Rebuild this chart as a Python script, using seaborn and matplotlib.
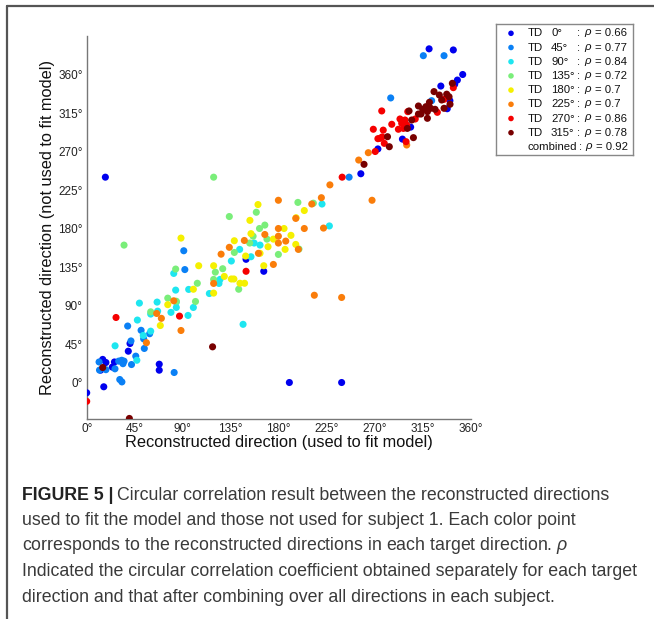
import matplotlib
matplotlib.use("Agg")
import matplotlib.pyplot as plt
from matplotlib.lines import Line2D
import seaborn as sns
import pandas as pd

# ---------------- data ----------------
categories = ["TD 0°", "TD 45°", "TD 90°", "TD 135°", "TD 180°", "TD 225°", "TD 270°", "TD 315°"]
angle_labels = ["0°", "45°", "90°", "135°", "180°", "225°", "270°", "315°"]
rho_values = ["0.66", "0.77", "0.84", "0.72", "0.7", "0.7", "0.86", "0.78"]
combined_rho = "0.92"
colors = ["#0000ee", "#0a80f5", "#1ee6f0", "#7aee7a", "#f5f000", "#fa7d0a", "#f50000", "#780000"]

td0_x = [0, 16, 15, 18, 13, 24, 26, 39, 40.6, 68, 68, 190, 239, 149.4, 166, 17.5, 257, 273,
         296, 303.7, 321, 343.7, 352.5, 347.5, 345, 332, 340.5, 338]
td0_y = [-12, -5, 27, 23.4, 14.4, 18, 24, 36.6, 45.6, 21.4, 14.4, 0, 0, 144, 130, 240, 244, 273,
         284.5, 298.5, 390, 388.7, 360, 353.5, 348.5, 346.5, 329.4, 320]

td45_x = [11.6, 18, 26.5, 30, 32.8, 34, 35, 31, 33, 41.5, 42, 46, 38.4, 51, 53.4, 54, 59, 82,
          91, 92, 285, 246, 323.4, 315.6, 335, 12]
td45_y = [24, 15, 16, 25, 26, 22, 25, 3.5, 0.7, 48.6, 21, 30.8, 66, 61, 51, 39.8, 57, 11.7,
          154, 132, 332.6, 240, 329.4, 382, 382, 14.5]

td90_x = [26.6, 47, 47.5, 49.4, 60, 53, 66.5, 66, 79, 84, 83.4, 81.6, 95.6, 95, 100, 115, 124,
          125, 135.6, 143.4, 146.6, 154, 157, 162.5, 220.6, 227.5, 60, 84]
td90_y = [42.9, 26, 73, 92.8, 60, 55, 83.4, 94, 82, 87.7, 108, 127.5, 108.8, 78.4, 87.7, 104,
          115.8, 120.5, 142, 155.6, 68, 147, 163, 160.6, 208.6, 183, 80, 94]

td135_x = [35, 60, 76, 84, 83.4, 102, 103.7, 119, 120.6, 127.5, 133.7, 138.4, 142.5, 152.8,
           156, 159, 162, 167, 169, 179.7, 198, 199, 119, 212.5]
td135_y = [160.6, 82.6, 98.6, 95, 132.6, 94.7, 116, 120.5, 129, 133, 194, 152, 109, 163,
           171, 199, 180, 184, 167.6, 149.7, 210.5, 156, 240, 209.6]

td180_x = [69, 76, 88.4, 100, 105, 119, 119, 129, 135.6, 138, 138.4, 143.7, 148, 149, 153,
           154, 160.6, 162.5, 166, 170, 175, 185, 186, 191.5, 196, 204, 196.3]
td180_y = [66.6, 91, 168.8, 109, 136.5, 104.5, 136.5, 124, 121, 121, 165.7, 116, 116, 147.8,
           189.5, 174, 208, 151, 136.5, 158.7, 167.6, 180, 155.6, 172, 161.4, 201, 192.6]

td225_x = [56, 65.6, 70, 81.6, 88.4, 119, 126, 133.7, 147.8, 161, 167, 175, 179.7, 179.7,
           179.7, 179.7, 186.6, 196, 198.4, 204, 211, 213.4, 222, 239, 267.5, 220, 228, 255,
           264, 300]
td225_y = [46.5, 80.7, 75, 95.5, 60.8, 115.8, 150, 158, 166, 151, 173, 138, 180, 171,
           163, 213, 165.3, 191.8, 155.6, 180, 208.6, 102, 180.5, 99.4, 213, 216, 231, 260,
           268.6, 277.6]

td270_x = [0, 27.5, 87, 149.4, 239.5, 270.5, 273, 275, 279, 277, 268.7, 278, 286, 276.6,
           292.2, 296.9, 293.7, 295.3, 298.4, 300, 301, 308, 299.4, 328.7, 335, 343.7]
td270_y = [-22, 76, 77.6, 130, 240, 270, 285, 285.4, 279.5, 287, 296, 295, 301.8, 317.4,
           296, 297, 308, 303, 306.8, 301, 316.6, 308, 281.5, 315.8, 331, 344.6]

td315_x = [15, 40, 118, 260, 282, 283.7, 300.6, 302.2, 304.7, 306.3, 311, 311, 313.4, 315,
           318, 319.4, 319.4, 321.3, 322.5, 326.6, 325.6, 330.6, 337.5, 332.8, 339.7, 340.6,
           335, 342.8]
td315_y = [17.5, -42, 41.7, 255, 287.3, 275.6, 297, 317.4, 306.8, 286.2, 323.2, 313.8, 313.8,
           319.3, 322.4, 316.6, 308.8, 327.5, 320.5, 319.3, 340, 336, 337, 330.2, 334, 325.2,
           320.5, 349.7]

tick_values = [0, 45, 90, 135, 180, 225, 270, 315, 360]
tick_labels = ["0°", "45°", "90°", "135°", "180°", "225°", "270°", "315°", "360°"]

xs = [td0_x, td45_x, td90_x, td135_x, td180_x, td225_x, td270_x, td315_x]
ys = [td0_y, td45_y, td90_y, td135_y, td180_y, td225_y, td270_y, td315_y]
rows = []
for cat, xv, yv in zip(categories, xs, ys):
    for a, b in zip(xv, yv):
        rows.append({"used": a, "notused": b, "td": cat})
df = pd.DataFrame(rows)

# ---------------- style ----------------
sns.set_style("white")
plt.rcParams["font.family"] = ["Liberation Sans", "DejaVu Sans"]
plt.rcParams["mathtext.fontset"] = "custom"
plt.rcParams["mathtext.it"] = "Liberation Sans:italic"
plt.rcParams["mathtext.rm"] = "Liberation Sans"

W, H = 654, 619
fig = plt.figure(figsize=(W / 100, H / 100), dpi=100)

ax = fig.add_axes([86.7 / W, 1 - 419.3 / H, 384 / W, 383.3 / H])
sns.scatterplot(data=df, x="used", y="notused", hue="td", hue_order=categories,
                palette=colors, s=26, linewidth=0, legend=False, ax=ax, zorder=3)
ax.set_xlim(0, 360)
ax.set_ylim(-43, 405)
ax.set_xticks(tick_values)
ax.set_xticklabels(tick_labels)
ax.set_yticks(tick_values)
ax.set_yticklabels(tick_labels)
ax.tick_params(direction="in", length=4, width=0.8, color="#666666",
               labelsize=8.5, labelcolor="#222222", pad=3)
for side in ["top", "right"]:
    ax.spines[side].set_visible(False)
for side in ["left", "bottom"]:
    ax.spines[side].set_color("#777777")
    ax.spines[side].set_linewidth(1.0)
ax.set_xlabel("Reconstructed direction (used to fit model)", fontsize=11.8, color="#111111", labelpad=0)
ax.set_ylabel("Reconstructed direction (not used to fit model)", fontsize=11.8, color="#111111", labelpad=2)

# ---------------- legend box ----------------
lx0, ly0, lx1, ly1 = 496, 24.3, 633, 155
lw_, lh_ = lx1 - lx0, ly1 - ly0
leg = fig.add_axes([lx0 / W, 1 - ly1 / H, lw_ / W, lh_ / H])
leg.set_xlim(0, lw_)
leg.set_ylim(lh_, 0)
leg.set_xticks([])
leg.set_yticks([])
for sp in leg.spines.values():
    sp.set_color("#888888")
    sp.set_linewidth(1.0)
row_y = [9 + 14.2 * i for i in range(9)]
leg.scatter([15] * 8, row_y[:8], c=colors, s=16, linewidths=0)
lfs = 8.2
for i in range(8):
    leg.text(31.3, row_y[i], "TD", fontsize=lfs, va="center", ha="left", color="#111111")
    leg.text(55, row_y[i], angle_labels[i], fontsize=lfs, va="center", ha="left", color="#111111")
    leg.text(81, row_y[i], ":", fontsize=lfs, va="center", ha="left", color="#111111")
    leg.text(87.5, row_y[i], "$\\rho$", fontsize=lfs, va="center", ha="left", color="#111111")
    leg.text(99, row_y[i], "= " + rho_values[i], fontsize=lfs, va="center", ha="left", color="#111111")
leg.text(31.3, row_y[8], "combined", fontsize=lfs, va="center", ha="left", color="#111111")
leg.text(83, row_y[8], ":", fontsize=lfs, va="center", ha="left", color="#111111")
leg.text(89, row_y[8], "$\\rho$", fontsize=lfs, va="center", ha="left", color="#111111")
leg.text(100, row_y[8], "= " + combined_rho, fontsize=lfs, va="center", ha="left", color="#111111")

# ---------------- page frame ----------------
fig.add_artist(Line2D([7 / W, 7 / W], [0, 1 - 6 / H], transform=fig.transFigure,
                      color="#555555", lw=1.6))
fig.add_artist(Line2D([7 / W, 1], [1 - 6 / H, 1 - 6 / H], transform=fig.transFigure,
                      color="#555555", lw=1.6))

# ---------------- caption ----------------
cap_lines = [
    "Circular correlation result between the reconstructed directions",
    "used to fit the model and those not used for subject 1. Each color point",
    "corresponds to the reconstructed directions in each target direction. $\\rho$",
    "Indicated the circular correlation coefficient obtained separately for each target",
    "direction and that after combining over all directions in each subject.",
]
cap_y = [495.7, 520.5, 546, 571.5, 597]
cap_color = "#3a3a3a"
fig.canvas.draw()
renderer = fig.canvas.get_renderer()
probe = fig.text(0, 0, cap_lines[3], fontsize=10)
wpx = probe.get_window_extent(renderer).width
probe.remove()
cfs = 10 * 621 / wpx
cap_x = 22 / W
bold = fig.text(cap_x, 1 - cap_y[0] / H, "FIGURE 5 |", fontsize=cfs, fontweight="bold",
                va="center", ha="left", color="#222222")
fig.canvas.draw()
bw = bold.get_window_extent(renderer).x1
fig.text((bw + 4) / W, 1 - cap_y[0] / H, cap_lines[0], fontsize=cfs, va="center",
         ha="left", color=cap_color)
for txt, yy in zip(cap_lines[1:], cap_y[1:]):
    fig.text(cap_x, 1 - yy / H, txt, fontsize=cfs, va="center", ha="left", color=cap_color)

fig.savefig("out.png", dpi=100)
